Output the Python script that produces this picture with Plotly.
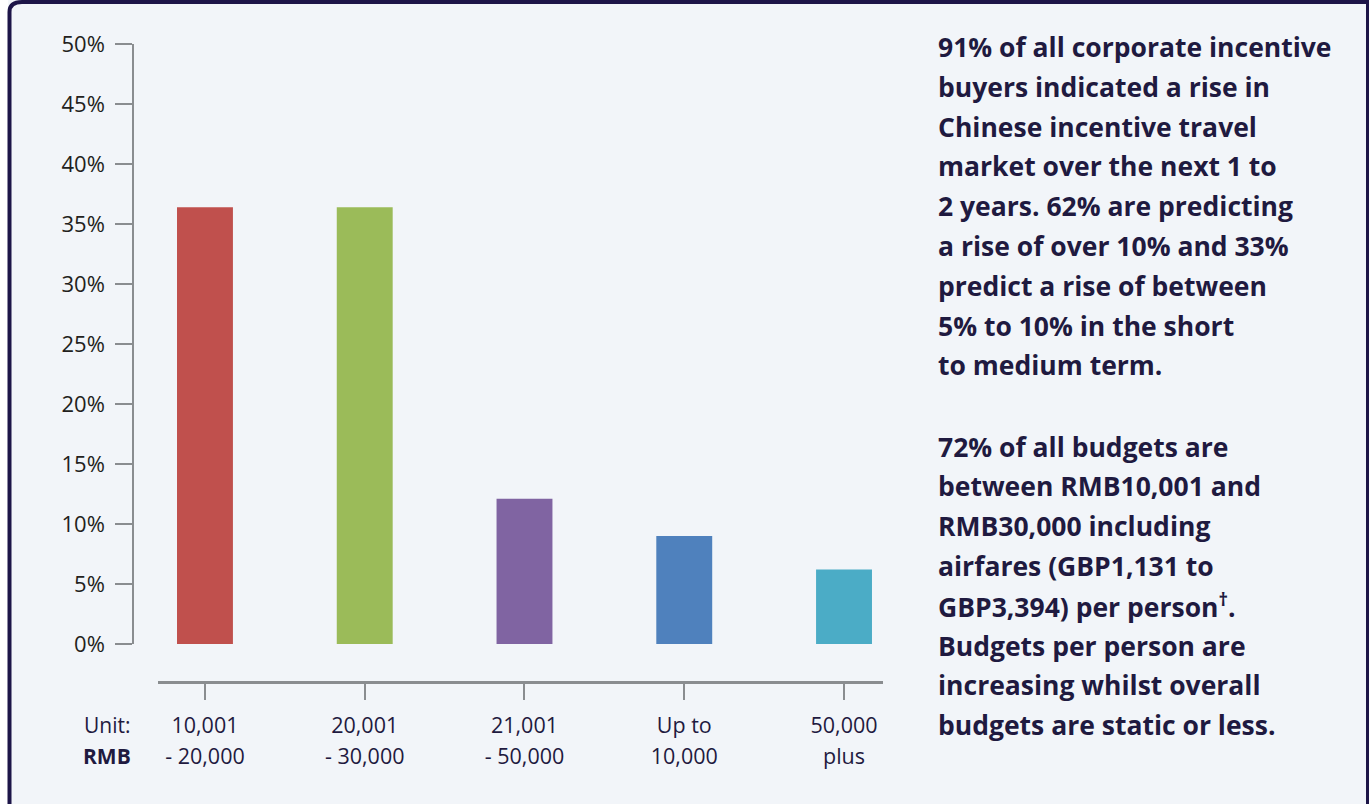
import plotly.graph_objects as go

# ---------------- data ----------------
category_lines = [["10,001", "- 20,000"], ["20,001", "- 30,000"], ["21,001", "- 50,000"],
                  ["Up to", "10,000"], ["50,000", "plus"]]
shares = [36.4, 36.4, 12.1, 9.0, 6.2]
bar_colors = ["#c0504d", "#9bbb59", "#8064a2", "#4f81bd", "#4bacc6"]
y_ticks = [0, 5, 10, 15, 20, 25, 30, 35, 40, 45, 50]
y_tick_labels = [f"{v}%" for v in y_ticks]

para1 = ["91% of all corporate incentive",
         "buyers indicated a rise in",
         "Chinese incentive travel",
         "market over the next 1 to",
         "2 years. 62% are predicting",
         "a rise of over 10% and 33%",
         "predict a rise of between",
         "5% to 10% in the short",
         "to medium term."]
para2 = ["72% of all budgets are",
         "between RMB10,001 and",
         "RMB30,000 including",
         "airfares (GBP1,131 to",
         "GBP3,394) per person<sup>†</sup>.",
         "Budgets per person are",
         "increasing whilst overall",
         "budgets are static or less."]
unit_label = ["Unit:", "<b>RMB</b>"]

# ---------------- layout helpers ----------------
W, H = 1369, 804
def px(x):
    return x / W
def py(y):
    return 1 - y / H

NAVY = "#1d1548"
TEXT = "#1f1a40"
GREY = "#8a8d90"
FONT = "Open Sans"

categories = ["<br>".join(f"<span style='font-size:21.5px'>{s}</span>" for s in lines)
              for lines in category_lines]

fig = go.Figure(go.Bar(
    x=categories, y=shares,
    marker=dict(color=bar_colors, line=dict(width=0)),
    width=0.35, hoverinfo="skip",
))

fig.update_layout(
    width=W, height=H,
    margin=dict(l=0, r=0, t=0, b=0, autoexpand=False),
    paper_bgcolor="white",
    plot_bgcolor="rgba(0,0,0,0)",
    showlegend=False,
    font=dict(family=FONT, color=TEXT),
    xaxis=dict(
        type="category",
        range=[-0.294, 4.244],
        domain=[px(158), px(883)],
        anchor="free", position=py(682),
        showline=True, linecolor=GREY, linewidth=2.5,
        ticks="outside", ticklen=16, tickwidth=1.5, tickcolor=GREY,
        tickfont=dict(size=24, color=TEXT, family=FONT),
        ticklabelstandoff=4,
        showgrid=False, zeroline=False, fixedrange=True, automargin=False,
    ),
    yaxis=dict(
        range=[0, 50],
        domain=[py(644), py(44)],
        anchor="free", position=px(133),
        showline=True, linecolor=GREY, linewidth=1.5,
        ticks="outside", ticklen=17, tickwidth=1.5, tickcolor=GREY,
        tickmode="array", tickvals=y_ticks, ticktext=y_tick_labels,
        tickfont=dict(size=22, color="#231f20", family=FONT),
        ticklabelstandoff=6,
        showgrid=False, zeroline=False, fixedrange=True, automargin=False,
    ),
)

# background panel and frame
shapes = [
    dict(type="rect", xref="paper", yref="paper", x0=px(8), x1=1, y0=0, y1=1,
         fillcolor="#f2f5f9", line=dict(width=0), layer="below"),
    dict(type="path", xref="paper", yref="paper",
         path=f"M {px(9.5)},0 L {px(9.5)},{py(12)} Q {px(9.5)},{py(2)} {px(22)},{py(2)} L 1,{py(2)}",
         line=dict(color=NAVY, width=4), layer="above"),
    dict(type="line", xref="paper", yref="paper", x0=px(1367.5), x1=px(1367.5), y0=0, y1=1,
         line=dict(color=NAVY, width=3), layer="above"),
]
fig.update_layout(shapes=shapes)

annotations = []
line_step = 39.8
for i, t in enumerate(para1):
    annotations.append(dict(x=px(936), y=py(47 + i * line_step), xref="paper", yref="paper",
                            text=f"<b>{t}</b>", showarrow=False, xanchor="left", yanchor="middle",
                            font=dict(size=26.5, color=TEXT, family=FONT)))
for i, t in enumerate(para2):
    annotations.append(dict(x=px(936), y=py(446.5 + i * line_step), xref="paper", yref="paper",
                            text=f"<b>{t}</b>", showarrow=False, xanchor="left", yanchor="middle",
                            font=dict(size=26.5, color=TEXT, family=FONT)))
for i, t in enumerate(unit_label):
    annotations.append(dict(x=px(133), y=py(725 + i * 31), xref="paper", yref="paper",
                            text=t, showarrow=False, xanchor="right", yanchor="middle",
                            font=dict(size=21, color=TEXT, family=FONT)))
fig.update_layout(annotations=annotations)

fig.write_html("out.html", config={"displayModeBar": False},
               post_script="document.body.style.margin='0';document.body.style.overflow='hidden';")
